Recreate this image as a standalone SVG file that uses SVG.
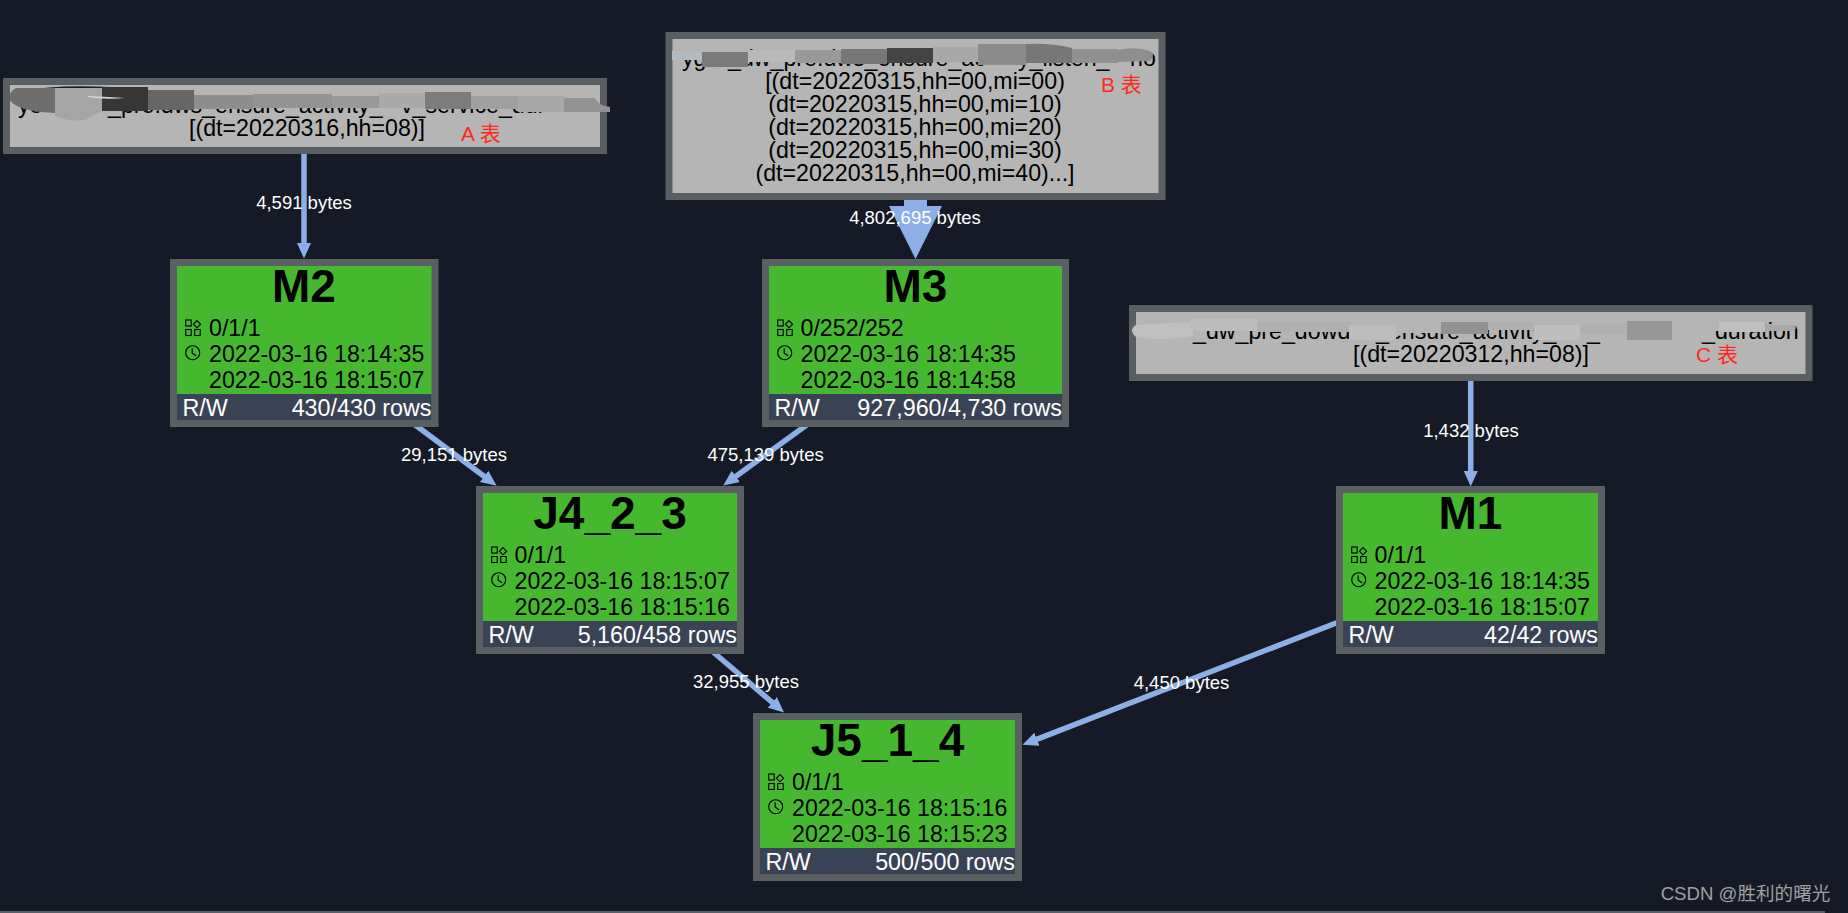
<svg xmlns="http://www.w3.org/2000/svg" xmlns:xlink="http://www.w3.org/1999/xlink" width="1848" height="913" viewBox="0 0 1848 913">
<style>
text{font-family:"Liberation Sans",Arial,"Noto Sans CJK SC",sans-serif}
.bg{fill:#161a27}
.src{fill:#b5b5b5;stroke:#5a5f63;stroke-width:7}
.box{fill:#45b82f;stroke:#5a5f63;stroke-width:7}
.bar{fill:#3a4355}
.t{font-size:23.2px;fill:#000}
.c{text-anchor:middle}
.h{font-size:46px;font-weight:bold;fill:#000;text-anchor:middle}
.w{font-size:23.3px;fill:#fff}
.e{text-anchor:end}
.el{font-size:18.5px;fill:#fff;text-anchor:middle}
.red{font-size:21px;fill:#ff2a1a}
.edge{stroke:#8cb0e6;stroke-width:5.5;fill:none;marker-end:url(#arrow)}
.ic{fill:none;stroke:#000;stroke-width:1.1}
</style>
<defs>
<marker id="arrow" markerUnits="userSpaceOnUse" markerWidth="16" markerHeight="15" refX="1" refY="7.5" orient="auto"><path d="M0,0.5 L15.5,7.5 L0,14.5 Z" fill="#8cb0e6"/></marker>
<g id="parts" class="ic"><rect x="0" y="0" width="5.5" height="6"/><path d="M11.3,0.6 L14.9,4.2 L11.3,7.8 L7.7,4.2 Z"/><rect x="0" y="9.5" width="5.5" height="6"/><rect x="9" y="9.5" width="5.5" height="6"/></g>
<g id="clock" class="ic"><circle cx="0" cy="0" r="7"/><path d="M-0.5,-4.5 V0.5 L3.5,3"/></g>
</defs>
<rect class="bg" x="0" y="0" width="1848" height="913"/>
<rect x="0" y="911" width="1825" height="2" fill="#5a5f63"/>

<g id="connectors">
<line class="edge" x1="304" y1="150" x2="304" y2="244"/>
<path d="M904,197 H927 V206 H942 L915.5,259 L889,206 H904 Z" fill="#8cb0e6"/>
<line class="edge" x1="1470.7" y1="378" x2="1470.7" y2="472"/>
<line class="edge" x1="414" y1="424" x2="485" y2="477"/>
<line class="edge" x1="808" y1="424" x2="735" y2="477"/>
<line class="edge" x1="712" y1="651" x2="773" y2="703"/>
<line class="edge" x1="1340" y1="621.5" x2="1036" y2="739.6"/>
<text class="el" x="304" y="209">4,591 bytes</text>
<text class="el" x="915" y="223.5">4,802,695 bytes</text>
<text class="el" x="1471" y="436.5">1,432 bytes</text>
<text class="el" x="454" y="460.5">29,151 bytes</text>
<text class="el" x="765.6" y="460.5">475,139 bytes</text>
<text class="el" x="746" y="687.5">32,955 bytes</text>
<text class="el" x="1181.5" y="688.5">4,450 bytes</text>
</g>

<g id="tableA">
<rect class="src" x="6.5" y="81.5" width="597" height="69"/>
<text class="t" x="18" y="112.5">yo</text>
<text class="t" x="108" y="112.5">_pre.dws_ensure_activity_</text>
<text class="t" x="401" y="112.5">v_service_dur</text>
<text class="t c" x="307" y="135.5">[(dt=20220316,hh=08)]</text>
<path d="M15,92 Q55,84 110,87 L148,92 L148,95 Q80,88 15,95 Z" fill="#1b1e2b"/>
<path d="M55,88 H16 Q8,92 10,100 Q14,108 40,112 L55,113 Z" fill="#6e6e6e"/>
<path d="M55,88 H102 V111 L85,120 Q70,122 55,116 Z" fill="#a5a5a5"/>
<rect x="102" y="87" width="46" height="24" fill="#363636"/>
<path d="M88,96 Q110,97 125,98 Q105,100 88,97 Z" fill="#d8d8d8"/>
<rect x="148" y="90" width="46" height="20" fill="#666"/>
<rect x="194" y="95" width="59" height="14" fill="#8e8e8e"/>
<rect x="253" y="94" width="79" height="14" fill="#939393"/>
<rect x="332" y="96" width="47" height="12" fill="#999"/>
<rect x="379" y="93" width="46" height="15" fill="#aaa"/>
<rect x="425" y="92" width="46" height="17" fill="#7c7c7c"/>
<rect x="471" y="96" width="47" height="13" fill="#a0a0a0"/>
<rect x="518" y="96" width="46" height="16" fill="#a8a8a8"/>
<path d="M564,98 H595 Q597,105 610,107 V112 H564 Z" fill="#939393"/>
<text class="red" x="461" y="141">A 表</text>
</g>

<g id="tableB">
<rect class="src" x="669" y="35.5" width="493" height="161"/>
<text class="t" x="682" y="66">yg</text>
<text class="t" x="728" y="66">_dw_pre.dws_ensure_ac</text>
<text class="t" x="1018" y="66">y_listen_</text>
<text class="t" x="1130" y="66">ho</text>
<text class="t c" x="915" y="89">[(dt=20220315,hh=00,mi=00)</text>
<text class="t c" x="915" y="111.7">(dt=20220315,hh=00,mi=10)</text>
<text class="t c" x="915" y="135">(dt=20220315,hh=00,mi=20)</text>
<text class="t c" x="915" y="158">(dt=20220315,hh=00,mi=30)</text>
<text class="t c" x="915" y="181">(dt=20220315,hh=00,mi=40)...]</text>
<rect x="672" y="51" width="30" height="9" fill="#b3babd"/>
<rect x="702" y="52" width="46" height="15" fill="#7a7a7a"/>
<rect x="748" y="50" width="47" height="12" fill="#b9b9b9"/>
<rect x="795" y="50" width="46" height="13" fill="#999"/>
<rect x="841" y="49" width="46" height="15" fill="#777"/>
<rect x="887" y="48" width="46" height="15" fill="#444"/>
<rect x="933" y="47" width="45" height="15" fill="#a8a8a8"/>
<rect x="978" y="44" width="48" height="21" fill="#8c8c8c"/>
<path d="M1026,44 Q1050,43 1072,48 V63 H1026 Z" fill="#777"/>
<rect x="1072" y="49" width="46" height="14" fill="#909090"/>
<path d="M1118,50 Q1135,46 1150,51 Q1156,54 1150,61 L1118,62 Z" fill="#8e8e8e"/>
<text class="red" x="1101" y="92">B 表</text>
</g>

<g id="tableC">
<rect class="src" x="1132.5" y="308.5" width="676.5" height="69"/>
<text class="t" x="1193" y="339">_dw_pre_dowd</text>
<text class="t" x="1376" y="339">_ensure_activity_</text>
<text class="t" x="1587" y="339">_</text>
<text class="t" x="1702" y="339">_duration</text>
<text class="t c" x="1471" y="362">[(dt=20220312,hh=08)]</text>
<path d="M1136,325 Q1128,330 1136,337 Q1160,342 1193,336 L1193,322 Z" fill="#c0c0c0"/>
<rect x="1190" y="319" width="67" height="12" fill="#bcbcbc"/>
<rect x="1257" y="322" width="92" height="10" fill="#b0b0b0"/>
<rect x="1349" y="325" width="47" height="15" fill="#bdbdbd"/>
<rect x="1396" y="325" width="45" height="8" fill="#b5b5b5"/>
<rect x="1441" y="322" width="47" height="12" fill="#929292"/>
<rect x="1488" y="322" width="46" height="8" fill="#b0b0b0"/>
<rect x="1534" y="325" width="46" height="15" fill="#bebebe"/>
<rect x="1580" y="324" width="47" height="10" fill="#b0b0b0"/>
<rect x="1627" y="321" width="45" height="19" fill="#979797"/>
<rect x="1672" y="321" width="47" height="10" fill="#b4b4b4"/>
<rect x="1719" y="322" width="46" height="10" fill="#c0c0c0"/>
<path d="M1765,325 H1792 Q1800,328 1792,331 H1765 Z" fill="#a8a8a8"/>
<text class="red" x="1696" y="362">C 表</text>
</g>

<g id="M2" transform="translate(170,259)">
<rect class="box" x="3.5" y="3.5" width="261.5" height="161"/>
<rect class="bar" x="7" y="135" width="254.5" height="26"/>
<text class="h" x="134" y="42.7">M2</text>
<use href="#parts" xlink:href="#parts" x="15.7" y="61"/><use href="#clock" xlink:href="#clock" x="22.7" y="93.7"/>
<text class="t" x="39" y="77">0/1/1</text>
<text class="t" x="39" y="103">2022-03-16 18:14:35</text>
<text class="t" x="39" y="128.5">2022-03-16 18:15:07</text>
<text class="w" x="12.5" y="157">R/W</text>
<text class="w e" x="261.5" y="157">430/430 rows</text>
</g>

<g id="M3" transform="translate(762,259)">
<rect class="box" x="3.5" y="3.5" width="300" height="161"/>
<rect class="bar" x="7" y="135" width="293" height="26"/>
<text class="h" x="153.5" y="42.7">M3</text>
<use href="#parts" xlink:href="#parts" x="15.7" y="61"/><use href="#clock" xlink:href="#clock" x="22.7" y="93.7"/>
<text class="t" x="38.5" y="77">0/252/252</text>
<text class="t" x="38.5" y="103">2022-03-16 18:14:35</text>
<text class="t" x="38.5" y="128.5">2022-03-16 18:14:58</text>
<text class="w" x="12.5" y="157">R/W</text>
<text class="w e" x="300" y="157">927,960/4,730 rows</text>
</g>

<g id="M1" transform="translate(1336,486)">
<rect class="box" x="3.5" y="3.5" width="262" height="161"/>
<rect class="bar" x="7" y="135" width="255" height="26"/>
<text class="h" x="134.5" y="42.7">M1</text>
<use href="#parts" xlink:href="#parts" x="15.7" y="61"/><use href="#clock" xlink:href="#clock" x="22.7" y="93.7"/>
<text class="t" x="38.5" y="77">0/1/1</text>
<text class="t" x="38.5" y="103">2022-03-16 18:14:35</text>
<text class="t" x="38.5" y="128.5">2022-03-16 18:15:07</text>
<text class="w" x="12.5" y="157">R/W</text>
<text class="w e" x="262" y="157">42/42 rows</text>
</g>

<g id="J4_2_3" transform="translate(476,486)">
<rect class="box" x="3.5" y="3.5" width="261" height="161"/>
<rect class="bar" x="7" y="135" width="254" height="26"/>
<text class="h" x="134" y="42.7">J4_2_3</text>
<use href="#parts" xlink:href="#parts" x="15.7" y="61"/><use href="#clock" xlink:href="#clock" x="22.7" y="93.7"/>
<text class="t" x="38.5" y="77">0/1/1</text>
<text class="t" x="38.5" y="103">2022-03-16 18:15:07</text>
<text class="t" x="38.5" y="128.5">2022-03-16 18:15:16</text>
<text class="w" x="12.5" y="157">R/W</text>
<text class="w e" x="261" y="157">5,160/458 rows</text>
</g>

<g id="J5_1_4" transform="translate(753,713)">
<rect class="box" x="3.5" y="3.5" width="262" height="161"/>
<rect class="bar" x="7" y="135" width="255" height="26"/>
<text class="h" x="134.5" y="42.7">J5_1_4</text>
<use href="#parts" xlink:href="#parts" x="15.7" y="61"/><use href="#clock" xlink:href="#clock" x="22.7" y="93.7"/>
<text class="t" x="39" y="77">0/1/1</text>
<text class="t" x="39" y="103">2022-03-16 18:15:16</text>
<text class="t" x="39" y="128.5">2022-03-16 18:15:23</text>
<text class="w" x="12.5" y="157">R/W</text>
<text class="w e" x="262" y="157">500/500 rows</text>
</g>

<text x="1660.7" y="900" font-size="18.6" fill="#a0a0a0">CSDN @胜利的曙光</text>
</svg>
